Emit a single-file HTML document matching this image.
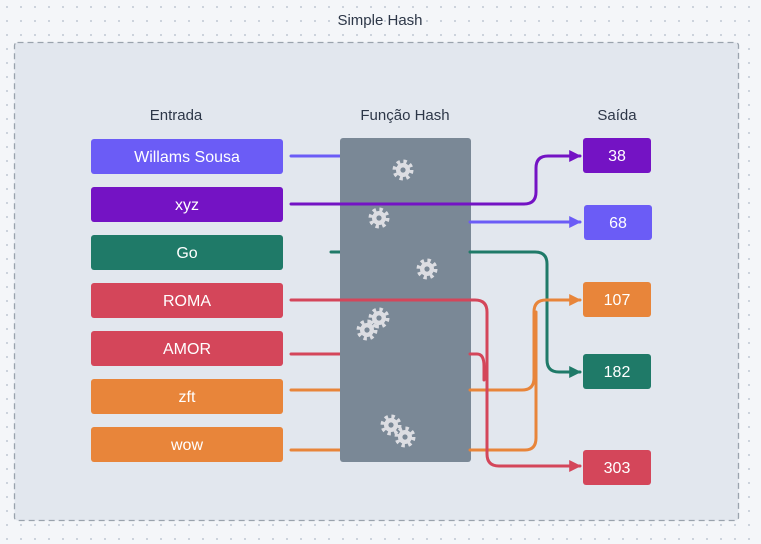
<!DOCTYPE html>
<html><head><meta charset="utf-8"><style>
body{margin:0;width:761px;height:539px;overflow:hidden;background-color:#f4f6f9;background-image:radial-gradient(#c9d0da 1px,transparent 1.2px);background-size:14px 14px;font-family:"Liberation Sans",sans-serif}
</style></head><body>
<svg width="761" height="539" xmlns="http://www.w3.org/2000/svg" font-family="Liberation Sans, sans-serif">
<defs>
<marker id="a" viewBox="0 0 10 10" refX="9" refY="5" markerWidth="4" markerHeight="4" orient="auto"><path d="M0,0L10,5L0,10z" fill="context-stroke"/></marker>
<g id="g">
<circle r="8.5" fill="none" stroke="#dcdde2" stroke-width="4" stroke-dasharray="3.3 3.4"/>
<circle r="7" fill="#dcdde2"/>
<circle r="2.6" fill="#7a8896"/>
</g>
</defs>
<text x="380" y="25" font-size="15" fill="#2d3748" text-anchor="middle">Simple Hash</text>
<rect x="14.5" y="42.5" width="724" height="478" rx="3" fill="#e2e7ee" stroke="#9aa3ad" stroke-width="1.3" stroke-dasharray="6,4"/>
<g font-size="15" fill="#2d3748" text-anchor="middle">
<text x="176" y="120">Entrada</text><text x="405" y="120">Função Hash</text><text x="617" y="120">Saída</text></g>
<g fill="none" stroke-width="3" stroke-linecap="round">
<path d="M291,156H340" stroke="#6b5cf6"/>
<path d="M331,252H340" stroke="#1f7a68"/>
<path d="M291,354H340" stroke="#d4465a"/>
<path d="M291,390H340" stroke="#e8853a"/>
<path d="M291,450H340" stroke="#e8853a"/>
</g>
<rect x="340" y="138" width="131" height="324" rx="3" fill="#7a8896"/>
<g fill="none" stroke-width="3" stroke-linecap="round">
<path d="M470,222H580" stroke="#6b5cf6" marker-end="url(#a)"/>
<path d="M470,252H535Q547,252 547,264V360Q547,372 559,372H580" stroke="#1f7a68" marker-end="url(#a)"/>
<path d="M470,390H522Q534,390 534,378V312Q534,300 546,300H580" stroke="#e8853a" marker-end="url(#a)"/>
<path d="M470,450H525Q536,450 536,438V312" stroke="#e8853a"/>
<path d="M470,354H477Q484,354 484,366V380" stroke="#d4465a"/>
<path d="M291,204H524Q536,204 536,192V168Q536,156 548,156H580" stroke="#7413c4" marker-end="url(#a)"/>
<path d="M291,300H475Q487,300 487,312V454Q487,466 499,466H580" stroke="#d4465a" marker-end="url(#a)"/>
</g>
<use href="#g" x="403" y="170"/><use href="#g" x="379" y="218"/><use href="#g" x="427" y="269"/>
<use href="#g" x="379" y="318"/><use href="#g" x="367" y="330"/>
<use href="#g" x="391" y="425"/><use href="#g" x="405" y="437"/>
<g font-size="16" fill="#fff" text-anchor="middle">
<rect x="91" y="139" width="192" height="35" rx="3" fill="#6b5cf6"/><text x="187" y="162">Willams Sousa</text>
<rect x="91" y="187" width="192" height="35" rx="3" fill="#7413c4"/><text x="187" y="210">xyz</text>
<rect x="91" y="235" width="192" height="35" rx="3" fill="#1f7a68"/><text x="187" y="258">Go</text>
<rect x="91" y="283" width="192" height="35" rx="3" fill="#d4465a"/><text x="187" y="306">ROMA</text>
<rect x="91" y="331" width="192" height="35" rx="3" fill="#d4465a"/><text x="187" y="354">AMOR</text>
<rect x="91" y="379" width="192" height="35" rx="3" fill="#e8853a"/><text x="187" y="402">zft</text>
<rect x="91" y="427" width="192" height="35" rx="3" fill="#e8853a"/><text x="187" y="450">wow</text>
<rect x="583" y="138" width="68" height="35" rx="3" fill="#7413c4"/><text x="617" y="161">38</text>
<rect x="584" y="205" width="68" height="35" rx="3" fill="#6b5cf6"/><text x="618" y="228">68</text>
<rect x="583" y="282" width="68" height="35" rx="3" fill="#e8853a"/><text x="617" y="305">107</text>
<rect x="583" y="354" width="68" height="35" rx="3" fill="#1f7a68"/><text x="617" y="377">182</text>
<rect x="583" y="450" width="68" height="35" rx="3" fill="#d4465a"/><text x="617" y="473">303</text>
</g>
</svg>
</body></html>
